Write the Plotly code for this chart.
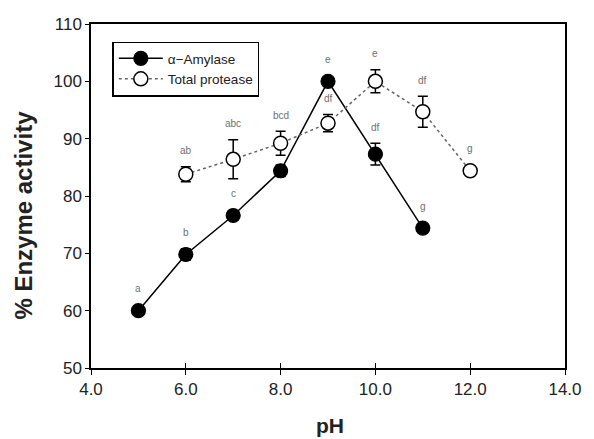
import plotly.graph_objects as go

# Data
ph_amylase = [5, 6, 7, 8, 9, 10, 11]
amylase = [60.0, 69.8, 76.6, 84.4, 100.0, 87.3, 74.4]
amylase_err = [0.0, 1.0, 0.0, 1.0, 0.0, 1.9, 0.0]
amylase_labels = ["a", "b", "c", "", "e", "df", "g"]

ph_protease = [6, 7, 8, 9, 10, 11, 12]
protease = [83.8, 86.4, 89.2, 92.7, 100.0, 94.7, 84.4]
protease_err = [1.3, 3.4, 2.1, 1.5, 2.0, 2.7, 0.0]
protease_labels = ["ab", "abc", "bcd", "df", "e", "df", "g"]

x_ticks = [4, 6, 8, 10, 12, 14]
x_tick_text = ["4.0", "6.0", "8.0", "10.0", "12.0", "14.0"]
y_ticks = [50, 60, 70, 80, 90, 100, 110]

FONT = "Liberation Sans, Arial, sans-serif"

fig = go.Figure()

fig.add_trace(go.Scatter(
    x=ph_amylase, y=amylase, name="α−Amylase", mode="lines+markers",
    line=dict(color="black", width=1.5),
    marker=dict(symbol="circle", size=14, color="black", line=dict(color="black", width=1.2)),
    error_y=dict(type="data", array=amylase_err, visible=True, color="black", thickness=1.5, width=5),
))
fig.add_trace(go.Scatter(
    x=ph_protease, y=protease, name="Total protease", mode="lines+markers",
    line=dict(color="#666666", width=1.5, dash="dot"),
    marker=dict(symbol="circle", size=14, color="white", line=dict(color="black", width=1.5)),
    error_y=dict(type="data", array=protease_err, visible=True, color="black", thickness=1.5, width=5),
))

annotations = []
for xs, ys, es, labs in [(ph_amylase, amylase, amylase_err, amylase_labels),
                         (ph_protease, protease, protease_err, protease_labels)]:
    for x, y, e, t in zip(xs, ys, es, labs):
        if not t:
            continue
        annotations.append(dict(
            x=x, y=y + e, xref="x", yref="y", text=t, showarrow=False,
            yshift=(16 if e > 0 else 22), font=dict(family=FONT, size=10, color="#707070"),
        ))

# axis titles as annotations for exact placement
annotations.append(dict(
    text="<b>% Enzyme activity</b>", xref="paper", yref="paper", x=-0.142, y=0.445,
    xanchor="center", yanchor="middle", textangle=-90, showarrow=False,
    font=dict(family=FONT, size=24, color="#222222"),
))
annotations.append(dict(
    text="<b>pH</b>", xref="paper", yref="paper", x=0.505, y=-0.127,
    xanchor="center", yanchor="top", showarrow=False,
    font=dict(family=FONT, size=21, color="#222222"),
))

fig.update_layout(
    width=594, height=439,
    margin=dict(l=91, r=20, t=24, b=71),
    paper_bgcolor="white", plot_bgcolor="white",
    font=dict(family=FONT, color="#222222"),
    showlegend=True,
    legend=dict(
        x=0.045, y=0.949, xanchor="left", yanchor="top",
        bgcolor="white", bordercolor="black", borderwidth=1.5,
        font=dict(family=FONT, size=13.5, color="#222222"),
        tracegroupgap=0, itemwidth=44,
    ),
    annotations=annotations,
    xaxis=dict(
        range=[4, 14], tickvals=x_ticks, ticktext=x_tick_text,
        showgrid=False, zeroline=False,
        showline=True, linecolor="black", linewidth=1.5, mirror=True,
        ticks="outside", ticklen=5, tickcolor="black", tickwidth=1,
        tickfont=dict(family=FONT, size=17, color="#222222"),
    ),
    xaxis2=dict(
        range=[4, 14], tickvals=x_ticks, overlaying="x", anchor="y", side="bottom",
        showgrid=False, zeroline=False, showline=False, showticklabels=False,
        ticks="inside", ticklen=5, tickcolor="black", tickwidth=1,
    ),
    yaxis=dict(
        range=[50, 110], tickvals=y_ticks,
        showgrid=False, zeroline=False,
        showline=True, linecolor="black", linewidth=1.5, mirror=True,
        ticks="outside", ticklen=4, tickcolor="black", tickwidth=1,
        tickfont=dict(family=FONT, size=17, color="#222222"),
    ),
)

# invisible trace to activate the overlaid axis carrying the inner tick marks
fig.add_trace(go.Scatter(x=[4], y=[50], xaxis="x2", yaxis="y", mode="markers",
                         marker=dict(opacity=0), showlegend=False, hoverinfo="skip"))

# remove the default page margin so the figure fills the window exactly
fig.write_html(
    "out.html",
    config={"displayModeBar": False},
    post_script="document.body.style.margin='0';document.body.style.overflow='hidden';",
)
